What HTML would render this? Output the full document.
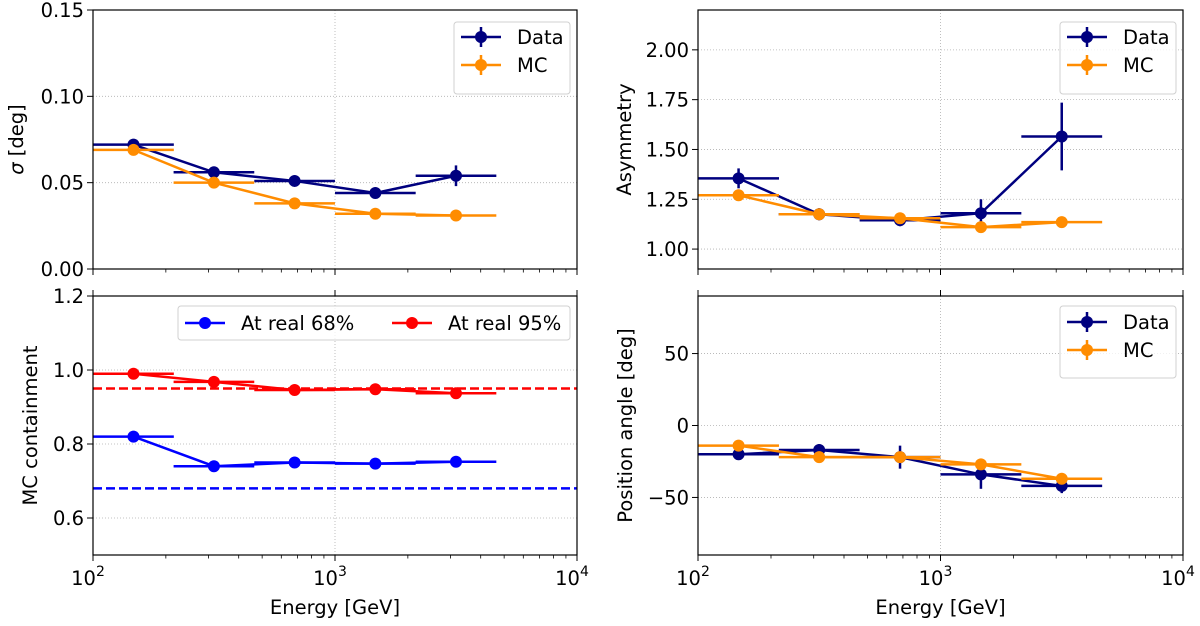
<!DOCTYPE html>
<html><head><meta charset="utf-8"><style>
body{margin:0;background:#fff;}
svg{font-family:"DejaVu Sans","Liberation Sans",sans-serif;}
</style></head><body>
<svg id="fig" width="1200" height="621" viewBox="0 0 1200 621" xmlns="http://www.w3.org/2000/svg"></svg>
<script>
const energies = [147, 316, 681, 1468, 3162];
const sigmaData = [0.072, 0.056, 0.051, 0.044, 0.054];
const sigmaDataErr = [0.002, 0.002, 0.002, 0.002, 0.006];
const sigmaMC = [0.069, 0.050, 0.038, 0.032, 0.031];
const asymData = [1.355, 1.175, 1.145, 1.18, 1.565];
const asymDataErr = [0.05, 0.03, 0.03, 0.07, 0.17];
const asymMC = [1.27, 1.175, 1.155, 1.11, 1.135];
const asymMCErr = [0.02, 0.02, 0.02, 0.02, 0.01];
const cont68 = [0.82, 0.74, 0.75, 0.747, 0.752];
const cont95 = [0.99, 0.968, 0.946, 0.948, 0.937];
const paData = [-20, -17, -22, -34, -42];
const paDataErr = [3, 4, 8, 10, 5];
const paMC = [-14, -22, -22, -27, -37];
const paMCErr = [2, 2, 2, 2, 2];
const sigmaTicks = [0, 0.05, 0.10, 0.15];
const sigmaTickLabels = ["0.00","0.05","0.10","0.15"];
const asymTicks = [1.0, 1.25, 1.5, 1.75, 2.0];
const asymTickLabels = ["1.00","1.25","1.50","1.75","2.00"];
const contTicks = [0.6, 0.8, 1.0, 1.2];
const contTickLabels = ["0.6","0.8","1.0","1.2"];
const paTicks = [-50, 0, 50];
const paTickLabels = ["\u221250","0","50"];

const NS = "http://www.w3.org/2000/svg";
const svg = document.getElementById('fig');
const FS = 19.5;
function mk(tag, attrs, parent){const e=document.createElementNS(NS,tag);for(const k in attrs)e.setAttribute(k,attrs[k]);(parent||svg).appendChild(e);return e;}

function panel(o){
  const g = mk('g',{});
  
  
  const X = v => o.x0 + (Math.log10(v)-2)/2*(o.x1-o.x0);
  const Y = v => o.y1 - (v-o.ymin)/(o.ymax-o.ymin)*(o.y1-o.y0);
  o.ticks.forEach(t=>{const l=mk('line',{x1:o.x0,x2:o.x1,y1:Y(t),y2:Y(t),stroke:'#b0b0b0','stroke-width':0.8,'stroke-dasharray':'1,2'},g);
    });
  const vg=mk('line',{x1:X(1000),x2:X(1000),y1:o.y0,y2:o.y1,stroke:'#b0b0b0','stroke-width':0.8,'stroke-dasharray':'1,2'},g);
  
  (o.refs||[]).forEach(r=>{const l=mk('line',{x1:o.x0,x2:o.x1,y1:Y(r.v),y2:Y(r.v),stroke:r.c,'stroke-width':2.5,'stroke-dasharray':'9,4'},g);
    });
  o.series.forEach(s=>{
    const sg=mk('g',{},g);
    
    
    const pts=energies.map((e,i)=>X(e)+','+Y(s.vals[i])).join(' ');
    mk('polyline',{points:pts,fill:'none',stroke:s.c,'stroke-width':2.5},sg);
    energies.forEach((e,i)=>{
      const lo=e/Math.pow(10,1/6), hi=e*Math.pow(10,1/6);
      mk('line',{x1:X(lo),x2:X(hi),y1:Y(s.vals[i]),y2:Y(s.vals[i]),stroke:s.c,'stroke-width':2.5},sg);
      if(s.err){mk('line',{x1:X(e),x2:X(e),y1:Y(s.vals[i]-s.err[i]),y2:Y(s.vals[i]+s.err[i]),stroke:s.c,'stroke-width':2.5},sg);}
      const c=mk('circle',{cx:X(e),cy:Y(s.vals[i]),r:6,fill:s.c},sg);
      
    });
  });
  const fr=mk('rect',{x:o.x0,y:o.y0,width:o.x1-o.x0,height:o.y1-o.y0,fill:'none',stroke:'#000','stroke-width':1.2},g);
  
  o.ticks.forEach((t,i)=>{mk('line',{x1:o.x0-6,x2:o.x0,y1:Y(t),y2:Y(t),stroke:'#000','stroke-width':1},g);
    const tx=mk('text',{x:o.x0-9,y:Y(t)+7,'text-anchor':'end','font-size':FS},g);tx.textContent=o.labels[i];
    });
  for(let d=2;d<=4;d++){const x=X(Math.pow(10,d));
    mk('line',{x1:x,x2:x,y1:o.y1,y2:o.y1+6,stroke:'#000','stroke-width':1},g);
    if(o.xlabels){mk('line',{x1:x,x2:x,y1:o.y0,y2:o.y0-6,stroke:'#000','stroke-width':1},g);
      const tx=mk('text',{x:x-5,y:o.y1+30,'text-anchor':'middle','font-size':FS},g);
      tx.textContent='10';const sp=mk('tspan',{dy:-9,'font-size':14},tx);sp.textContent=String(d);
      }
  }
  for(let d=2;d<4;d++)for(let m=2;m<10;m++){const x=X(m*Math.pow(10,d));
    mk('line',{x1:x,x2:x,y1:o.y1,y2:o.y1+3.5,stroke:'#000','stroke-width':0.8},g);}
  const yt=mk('text',{x:0,y:0,'text-anchor':'middle','font-size':FS,transform:`translate(${o.ytx},${(o.y0+o.y1)/2}) rotate(-90)`},g);
  yt.innerHTML=o.ytitle;
  if(o.xlabels){const xt=mk('text',{x:(o.x0+o.x1)/2,y:o.y1+59,'text-anchor':'middle','font-size':FS},g);xt.textContent='Energy [GeV]';
    }
  const L=o.legend; const lg=mk('g',{},g);
  
  mk('rect',{x:L.x,y:L.y,width:L.w,height:L.h,rx:3,fill:'#fff','fill-opacity':0.8,stroke:'#d0d0d0'},lg);
  L.items.forEach(it=>{const eg=mk('g',{},lg);
    
    mk('line',{x1:it.x,x2:it.x+40,y1:it.y,y2:it.y,stroke:it.c,'stroke-width':2.5},eg);
    if(it.err)mk('line',{x1:it.x+20,x2:it.x+20,y1:it.y-10,y2:it.y+10,stroke:it.c,'stroke-width':2.5},eg);
    mk('circle',{cx:it.x+20,cy:it.y,r:6,fill:it.c},eg);
    const t=mk('text',{x:it.x+56,y:it.y+7,'font-size':FS},eg);t.textContent=it.t;});
}
const LX0=93,LX1=577,RX0=698,RX1=1183,TY0=10,TY1=269,BY0=296,BY1=555;
const navy='#00007f',orange='#ff8c00';
panel({name:'sigma-panel',x0:LX0,x1:LX1,y0:TY0,y1:TY1,ymin:0,ymax:0.15,ticks:sigmaTicks,labels:sigmaTickLabels,ytitle:'<tspan font-style="italic">σ</tspan> [deg]',ytx:23,
  series:[{name:'sigma-data-series',vals:sigmaData,err:sigmaDataErr,c:navy},{name:'sigma-mc-series',vals:sigmaMC,err:null,c:orange}],
  legend:{x:454,y:22,w:116,h:72,items:[{x:461,y:37,c:navy,t:'Data',err:1},{x:461,y:65,c:orange,t:'MC',err:1}]}});
panel({name:'asymmetry-panel',x0:RX0,x1:RX1,y0:TY0,y1:TY1,ymin:0.9,ymax:2.2,ticks:asymTicks,labels:asymTickLabels,ytitle:'Asymmetry',ytx:631,
  series:[{name:'asym-data-series',vals:asymData,err:asymDataErr,c:navy},{name:'asym-mc-series',vals:asymMC,err:asymMCErr,c:orange}],
  legend:{x:1060,y:22,w:116,h:72,items:[{x:1067,y:37,c:navy,t:'Data',err:1},{x:1067,y:65,c:orange,t:'MC',err:1}]}});
panel({name:'containment-panel',x0:LX0,x1:LX1,y0:BY0,y1:BY1,ymin:0.5,ymax:1.2,ticks:contTicks,labels:contTickLabels,ytitle:'MC containment',ytx:37,xlabels:1,
  refs:[{v:0.95,c:'#ff0000'},{v:0.68,c:'#0000ff'}],
  series:[{name:'real-68-series',vals:cont68,err:null,c:'#0000ff'},{name:'real-95-series',vals:cont95,err:null,c:'#ff0000'}],
  legend:{x:178,y:306,w:392,h:34,items:[{x:185,y:323,c:'#0000ff',t:'At real 68%'},{x:392,y:323,c:'#ff0000',t:'At real 95%'}]}});
panel({name:'position-angle-panel',x0:RX0,x1:RX1,y0:BY0,y1:BY1,ymin:-90,ymax:90,ticks:paTicks,labels:paTickLabels,ytitle:'Position angle [deg]',ytx:632,xlabels:1,
  series:[{name:'pa-data-series',vals:paData,err:paDataErr,c:navy},{name:'pa-mc-series',vals:paMC,err:paMCErr,c:orange}],
  legend:{x:1060,y:306,w:116,h:72,items:[{x:1067,y:322,c:navy,t:'Data',err:1},{x:1067,y:350,c:orange,t:'MC',err:1}]}});
</script>
</body></html>
